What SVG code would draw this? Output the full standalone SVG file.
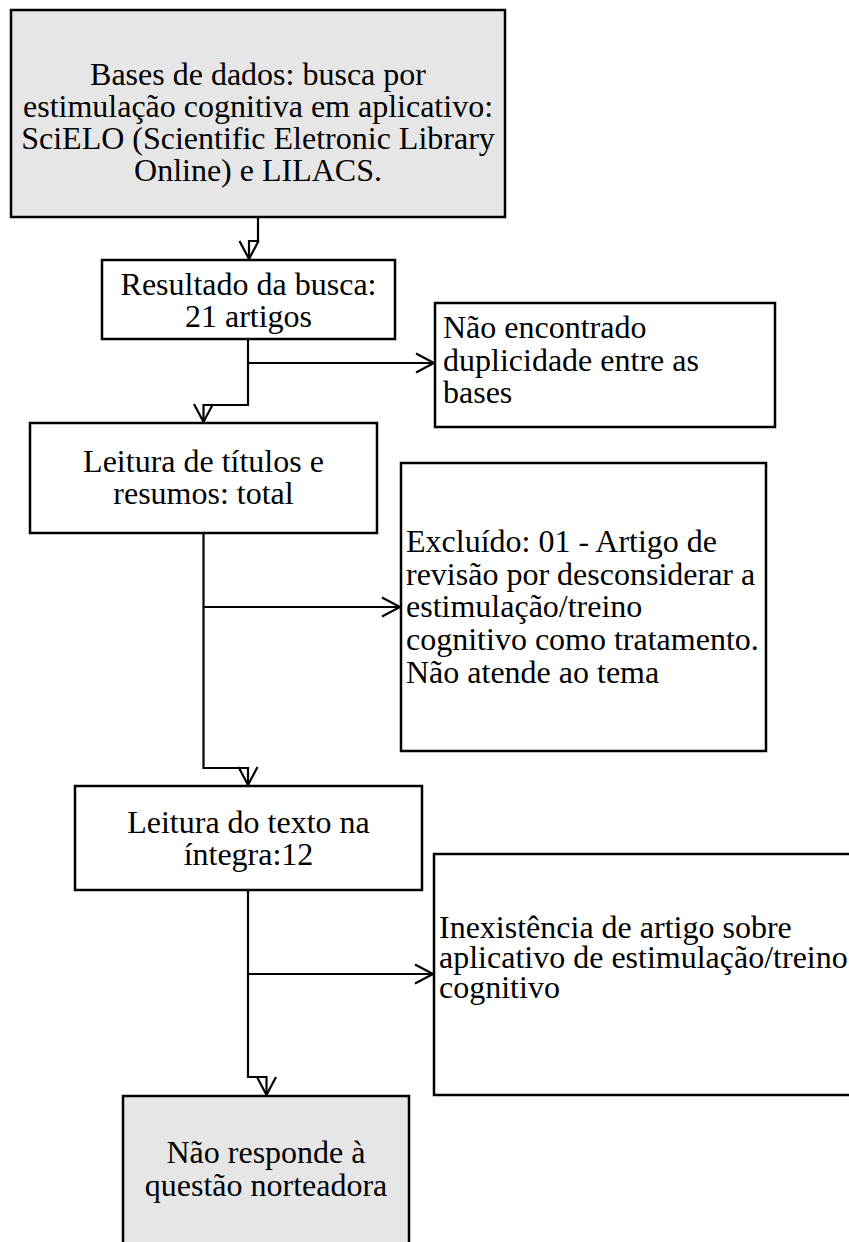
<svg xmlns="http://www.w3.org/2000/svg" width="849" height="1242" viewBox="0 0 849 1242">
<defs>
<style>
.box{fill:#ffffff;stroke:#000;stroke-width:2.5}
.gray{fill:#e6e6e6}
.t{font-family:"Liberation Serif","Times New Roman",serif;font-size:32px;fill:#000}
.c{text-anchor:middle}
.con{fill:none;stroke:#000;stroke-width:2.2;marker-end:url(#ah)}
</style>
<marker id="ah" markerUnits="userSpaceOnUse" markerWidth="22" markerHeight="22" refX="18" refY="9.5" orient="auto" overflow="visible">
<path d="M0,0 L18,9.5 L0,19" fill="none" stroke="#000" stroke-width="2.2"/>
</marker>
</defs>
<rect width="849" height="1242" fill="#fff"/>
<g id="connectors">
<path class="con" d="M258,217 V241 H249 V259"/>
<path class="con" d="M248,339 V405 H203.5 V422"/>
<path class="con" d="M248,363 H434"/>
<path class="con" d="M203.5,533 V768 H248 V785"/>
<path class="con" d="M203.5,607 H400"/>
<path class="con" d="M248,890 V1077 H266.5 V1095"/>
<path class="con" d="M248,974 H433"/>
</g>
<g id="n1">
<rect class="box gray" x="11" y="10" width="494" height="207"/>
<text class="t c" x="258" y="85">Bases de dados: busca por</text>
<text class="t c" x="258" y="117">estimulação cognitiva em aplicativo:</text>
<text class="t c" x="258" y="149">SciELO (Scientific Eletronic Library</text>
<text class="t c" x="258" y="181">Online) e LILACS.</text>
</g>
<g id="n2">
<rect class="box" x="102" y="260" width="293" height="79"/>
<text class="t c" x="248.5" y="295">Resultado da busca:</text>
<text class="t c" x="248.5" y="327">21 artigos</text>
</g>
<g id="n3">
<rect class="box" x="435" y="303" width="340" height="124"/>
<text class="t" x="443" y="338">Não encontrado</text>
<text class="t" x="443" y="371">duplicidade entre as</text>
<text class="t" x="443" y="403">bases</text>
</g>
<g id="n4">
<rect class="box" x="30" y="423" width="347" height="110"/>
<text class="t c" x="203.5" y="472">Leitura de títulos e</text>
<text class="t c" x="203.5" y="504">resumos: total</text>
</g>
<g id="n5">
<rect class="box" x="401" y="463" width="365" height="288"/>
<text class="t" x="406" y="552">Excluído: 01 - Artigo de</text>
<text class="t" x="406" y="585">revisão por desconsiderar a</text>
<text class="t" x="406" y="617">estimulação/treino</text>
<text class="t" x="406" y="650">cognitivo como tratamento.</text>
<text class="t" x="406" y="683">Não atende ao tema</text>
</g>
<g id="n6">
<rect class="box" x="75" y="786" width="347" height="104"/>
<text class="t c" x="248.5" y="833">Leitura do texto na</text>
<text class="t c" x="248.5" y="865">íntegra:12</text>
</g>
<g id="n7">
<rect class="box" x="434" y="854" width="430" height="241"/>
<text class="t" x="439" y="938">Inexistência de artigo sobre</text>
<text class="t" x="439" y="968">aplicativo de estimulação/treino</text>
<text class="t" x="439" y="998">cognitivo</text>
</g>
<g id="n8">
<rect class="box gray" x="123" y="1096" width="286" height="160"/>
<text class="t c" x="266" y="1163">Não responde à</text>
<text class="t c" x="266" y="1196">questão norteadora</text>
</g>
</svg>
